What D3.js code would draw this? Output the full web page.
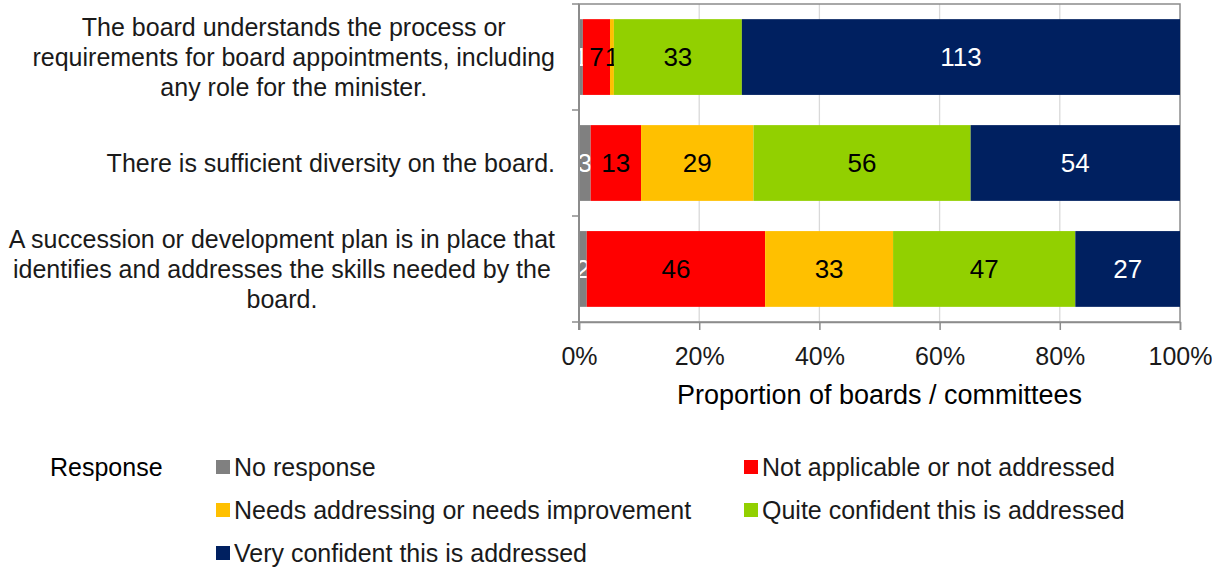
<!DOCTYPE html>
<html>
<head>
<meta charset="utf-8">
<script src="https://cdn.jsdelivr.net/npm/d3@7"></script>
<style>
  body { margin: 0; background: #fff; }
  svg { font-family: "Liberation Sans", Arial, sans-serif; }
</style>
</head>
<body>
<div id="chart"></div>
<script>
// categories (top to bottom), each as lines of text
const categories = [
    ["The board understands the process or", "requirements for board appointments, including", "any role for the minister."],
    ["There is sufficient diversity on the board."],
    ["A succession or development plan is in place that", "identifies and addresses the skills needed by the", "board."]
];
const responses = ["No response", "Not applicable or not addressed", "Needs addressing or needs improvement",
    "Quite confident this is addressed", "Very confident this is addressed"];
const colors = ["#808080", "#ff0000", "#ffc000", "#92d000", "#002060"];
const labelColors = ["#ffffff", "#000000", "#000000", "#000000", "#ffffff"];

// counts per category, in response order
const noResponse    = [1, 3, 2];
const notApplicable = [7, 13, 46];
const needsAddress  = [1, 29, 33];
const quiteConf     = [33, 56, 47];
const veryConf      = [113, 54, 27];
const xTicks = [0, 0.2, 0.4, 0.6, 0.8, 1];

const W = 1212, H = 568;
const margin = {left: 579, right: 32, top: 4, bottom: 246};
const width = W - margin.left - margin.right;
const height = H - margin.top - margin.bottom;
const fs = 25;

const series = [noResponse, notApplicable, needsAddress, quiteConf, veryConf];
let rows = categories.map((c, i) => {
    let r = {idx: i};
    responses.forEach((k, j) => r[k] = series[j][i]);
    return r;
});

const svg = d3.select("#chart").append("svg")
    .attr("width", W)
    .attr("height", H);

const g = svg.append("g").attr("transform", `translate(${margin.left},${margin.top})`);

const x = d3.scaleLinear().domain([0, 1]).range([0, width]);
const y = d3.scaleBand().domain(d3.range(categories.length)).range([0, height]).paddingInner(0.285).paddingOuter(0.143);

// gridlines
g.selectAll(".grid").data(xTicks.slice(1, -1)).enter().append("line")
    .attr("x1", d => x(d)).attr("x2", d => x(d))
    .attr("y1", 0).attr("y2", height)
    .attr("stroke", "#d9d9d9").attr("stroke-width", 1.3);

// plot frame
g.append("rect").attr("x", 0).attr("y", 0).attr("width", width).attr("height", height)
    .attr("fill", "none").attr("stroke", "#8c8c8c").attr("stroke-width", 1.5);

// stacked bars
const stack = d3.stack().keys(responses).offset(d3.stackOffsetExpand);
const stacked = stack(rows);

const layers = g.selectAll(".layer").data(stacked).enter().append("g")
    .attr("class", "layer")
    .attr("fill", (d, i) => colors[i]);

layers.selectAll("rect").data(d => d).enter().append("rect")
    .attr("x", d => x(d[0]))
    .attr("y", d => y(d.data.idx))
    .attr("width", d => x(d[1]) - x(d[0]))
    .attr("height", y.bandwidth());

layers.each(function (layer, li) {
    d3.select(this).selectAll("text").data(layer).enter().append("text")
        .attr("x", d => (x(d[0]) + x(d[1])) / 2)
        .attr("y", d => y(d.data.idx) + y.bandwidth() / 2)
        .attr("dy", "0.36em")
        .attr("text-anchor", "middle")
        .attr("fill", labelColors[li])
        .style("font-size", "26px")
        .text(d => d.data[layer.key]);
});

// y axis
const yAxisG = g.append("g");
yAxisG.append("line").attr("x1", 0).attr("x2", 0).attr("y1", 0).attr("y2", height + 8)
    .attr("stroke", "#8c8c8c").attr("stroke-width", 2);
const bounds = d3.range(categories.length + 1).map(i => i * height / categories.length);
yAxisG.selectAll(".ytick").data(bounds).enter().append("line")
    .attr("x1", -7).attr("x2", 0).attr("y1", d => d).attr("y2", d => d)
    .attr("stroke", "#8c8c8c").attr("stroke-width", 1.5);

// category labels: block right-aligned at the axis, lines centred within block
const lineH = 30;
const labelRight = -24;
g.selectAll(".cat").data(categories).enter().append("text")
    .attr("class", "cat")
    .attr("text-anchor", "middle")
    .attr("fill", "#1a1a1a")
    .style("font-size", fs + "px")
    .each(function (lines, i) {
        const t = d3.select(this);
        const cy = y(i) + y.bandwidth() / 2;
        const spans = t.selectAll("tspan").data(lines).enter().append("tspan")
            .attr("y", (d, k) => cy + (k - (lines.length - 1) / 2) * lineH)
            .attr("dy", "0.36em")
            .text(d => d);
        const maxW = d3.max(spans.nodes(), n => n.getComputedTextLength());
        spans.attr("x", labelRight - maxW / 2);
    });

// x axis
const xAxis = d3.axisBottom(x).tickValues(xTicks).tickFormat(d3.format(".0%")).tickSize(8).tickPadding(17);
const xAxisG = g.append("g").attr("transform", `translate(0,${height})`).call(xAxis);
xAxisG.select(".domain").attr("stroke", "#8c8c8c").attr("stroke-width", 1.5);
xAxisG.selectAll(".tick line").attr("stroke", "#8c8c8c").attr("stroke-width", 1.5);
xAxisG.selectAll(".tick text").attr("fill", "#1a1a1a").style("font-size", fs + "px")
    .style("font-family", "Liberation Sans, Arial, sans-serif");

g.append("text")
    .attr("x", width / 2).attr("y", height + 82)
    .attr("text-anchor", "middle")
    .attr("fill", "#000")
    .style("font-size", "27px")
    .text("Proportion of boards / committees");

// legend
const legend = svg.append("g").attr("class", "legend");
legend.append("text").attr("x", 50).attr("y", 467).attr("dy", "0.36em")
    .style("font-size", fs + "px").attr("fill", "#000").text("Response");

const colX = [216, 744], rowY = [467, 510, 553];
const items = legend.selectAll(".item").data(responses).enter().append("g")
    .attr("transform", (d, i) => `translate(${colX[i % 2]},${rowY[Math.floor(i / 2)]})`);
items.append("rect").attr("x", 0).attr("y", -7).attr("width", 14).attr("height", 14)
    .attr("fill", (d, i) => colors[i]);
items.append("text").attr("x", 18).attr("dy", "0.36em")
    .style("font-size", fs + "px").attr("fill", "#1a1a1a").text(d => d);
</script>
</body>
</html>
